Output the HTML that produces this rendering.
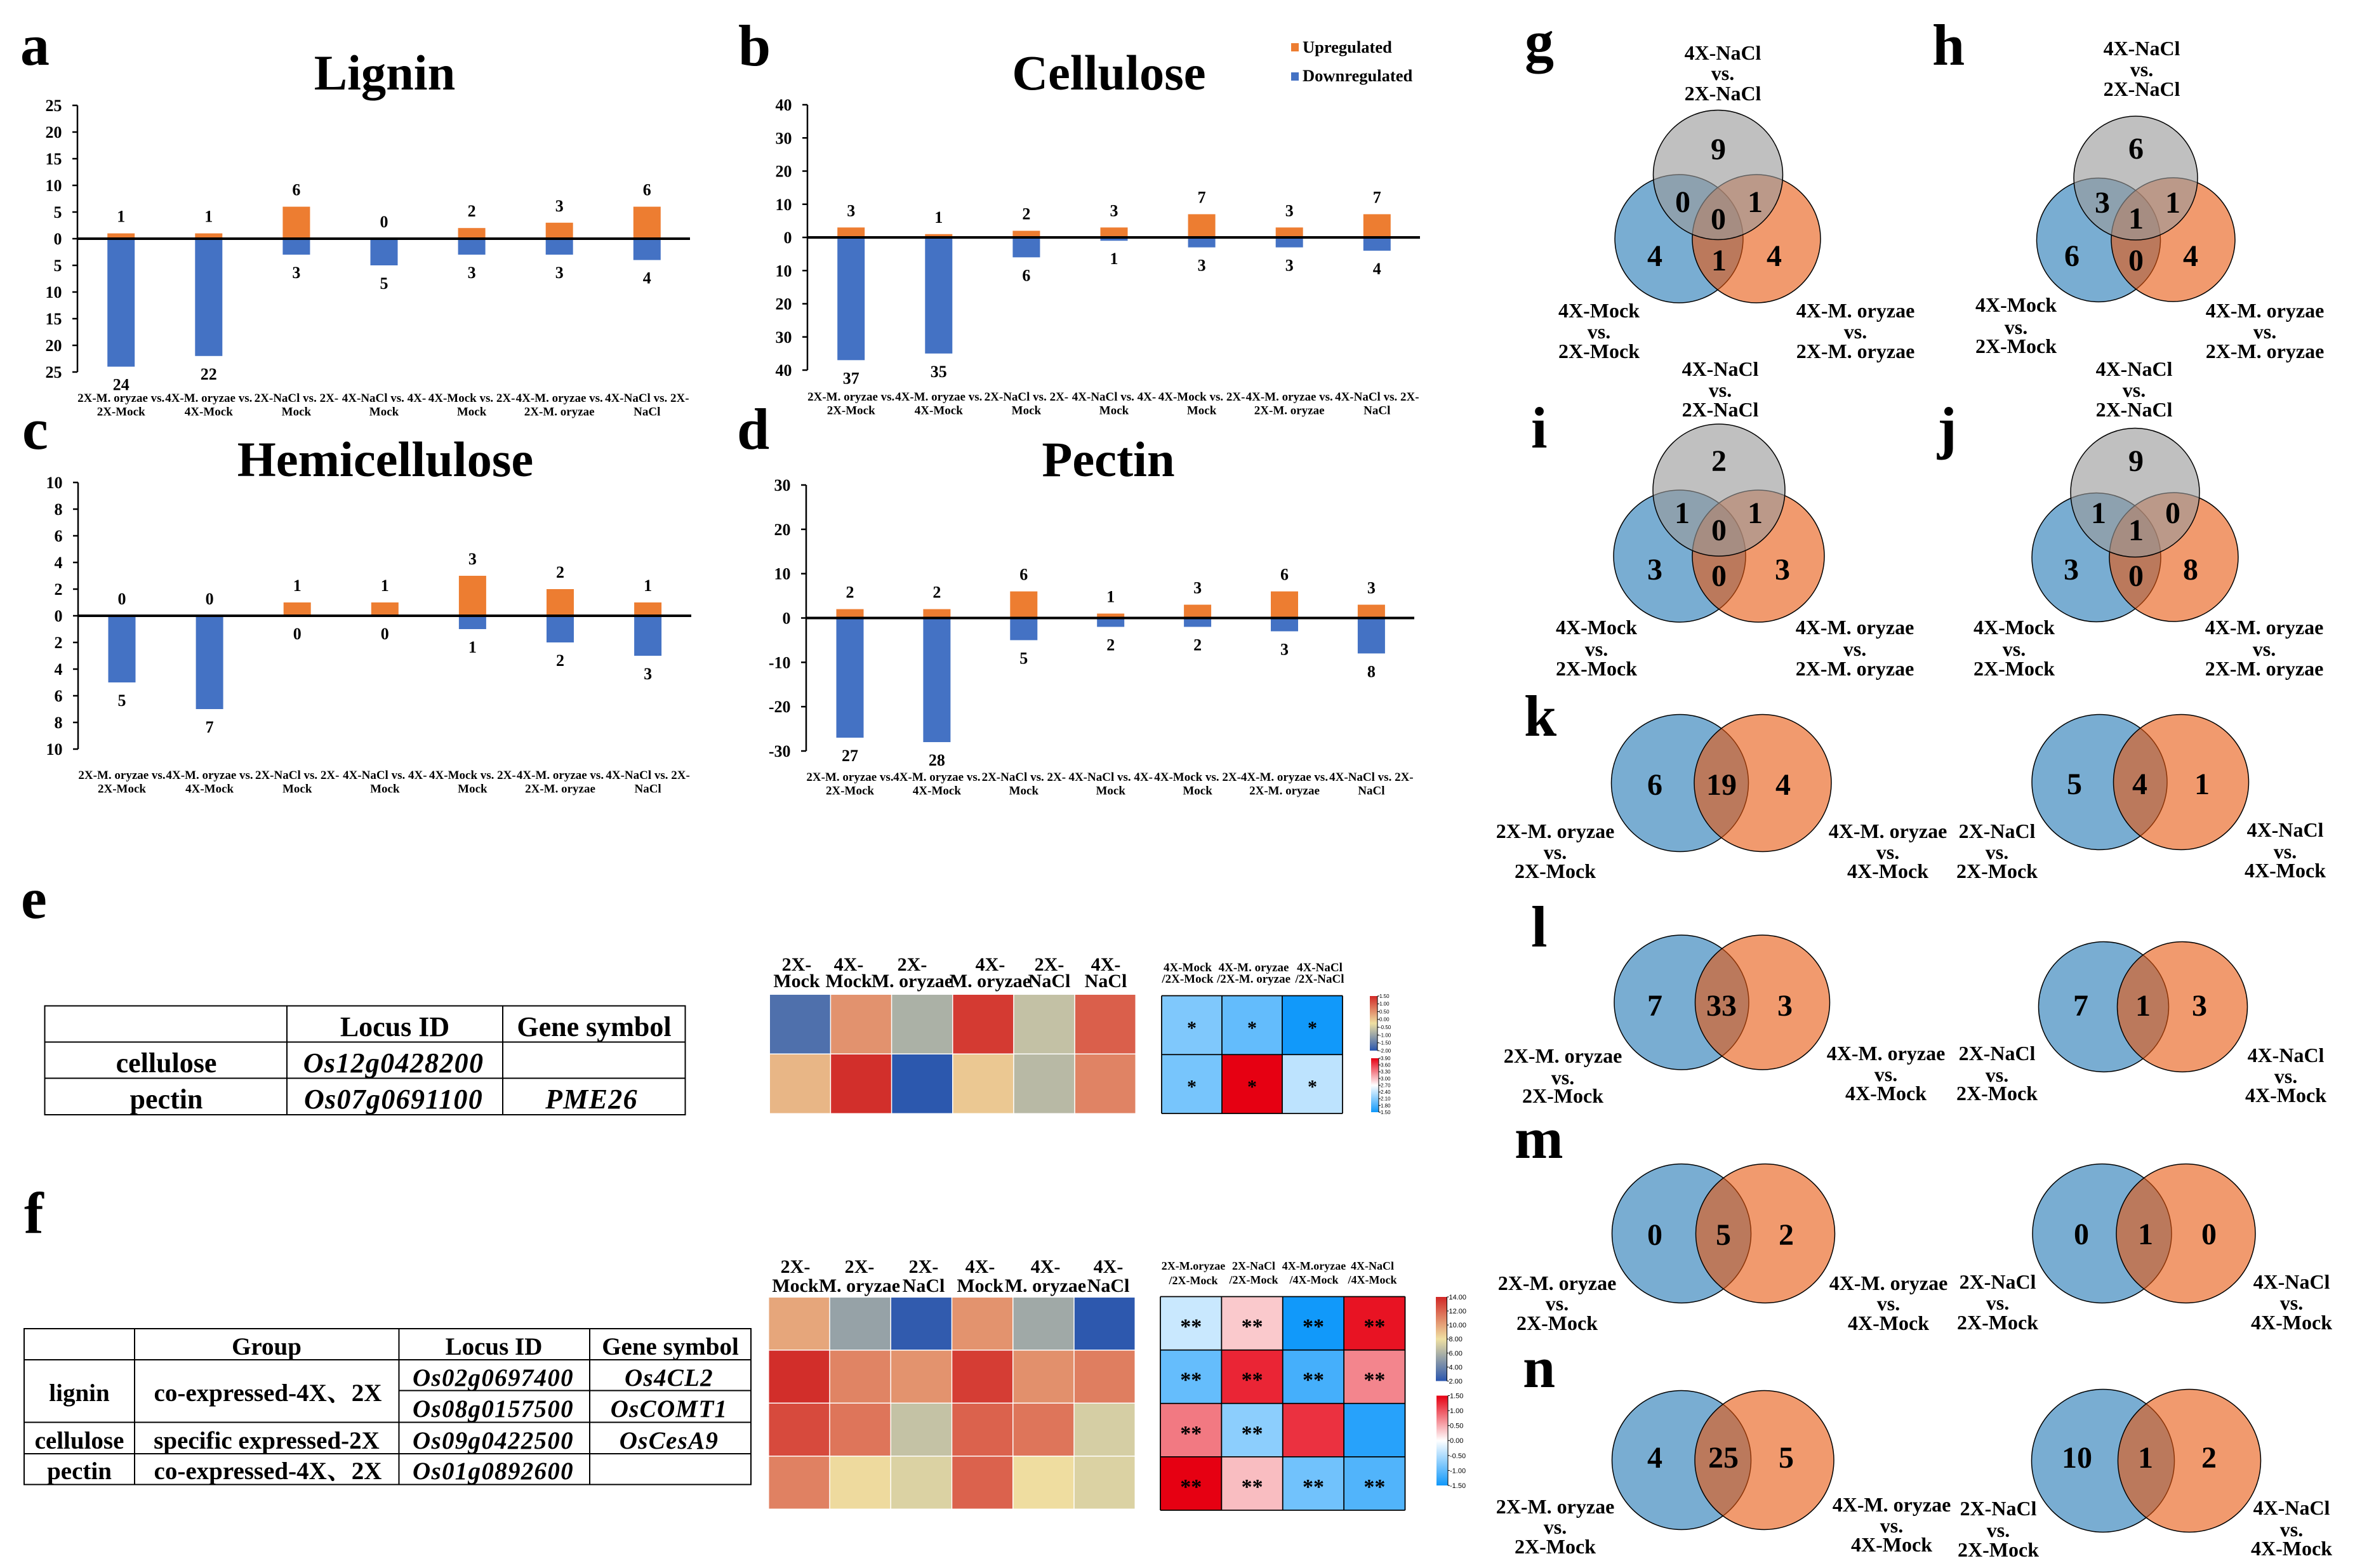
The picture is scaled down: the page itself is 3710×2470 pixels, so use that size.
<!DOCTYPE html>
<html lang="en">
<head>
<meta charset="utf-8">
<title>Cell wall gene expression figure</title>
<style>
html,body{margin:0;padding:0;background:#fff;}
svg{display:block;}
text{font-family:"Liberation Serif","Noto Serif CJK SC","Noto Sans CJK SC",serif;font-weight:bold;fill:#000;}
.letter{font-size:92px;}
.title{font-size:78.5px;text-anchor:middle;}
.tbl-e{font-size:44px;text-anchor:middle;}
.tbl-f{font-size:39px;text-anchor:middle;}
.ital{font-style:italic;letter-spacing:1.3px;}
.hdr{font-size:30px;text-anchor:middle;}
.hdr-sm{font-size:19px;text-anchor:middle;}
.hdr-xs{font-size:18px;text-anchor:middle;}
.vl{font-size:32px;text-anchor:middle;}
.vn{font-size:48px;text-anchor:middle;}
.vb{fill:rgb(31,119,180);fill-opacity:.6;stroke:#000;stroke-width:1.5;}
.vo{fill:rgb(232,87,13);fill-opacity:.6;stroke:#000;stroke-width:1.5;}
.vg{fill:rgb(153,153,153);fill-opacity:.62;stroke:#000;stroke-width:1.5;}
.tl{stroke:#000;stroke-width:2;}
</style>
</head>
<body>
<svg id="figure" xmlns="http://www.w3.org/2000/svg" width="3710" height="2470" viewBox="0 0 3710 2470">
<rect x="0" y="0" width="3710" height="2470" fill="#fff"/>

<text class="letter" x="32" y="102">a</text>
<text class="letter" x="1163" y="103">b</text>
<text class="letter" x="35" y="707">c</text>
<text class="letter" x="1161" y="707">d</text>
<text class="letter" x="33" y="1446">e</text>
<text class="letter" x="38" y="1942">f</text>
<text class="letter" x="2402" y="96">g</text>
<text class="letter" x="3044" y="102">h</text>
<text class="letter" x="2412" y="705">i</text>
<text class="letter" x="3052" y="705">j</text>
<text class="letter" x="2401" y="1159">k</text>
<text class="letter" x="2412" y="1491">l</text>
<text class="letter" x="2386" y="1824">m</text>
<text class="letter" x="2399" y="2185">n</text>

<text class="title" x="606" y="141">Lignin</text>
<text class="title" x="1747" y="141">Cellulose</text>
<text class="title" x="607" y="750">Hemicellulose</text>
<text class="title" x="1746" y="750">Pectin</text>

<g>
<rect x="2034" y="68" width="12" height="13" fill="#ed7d31"/>
<text x="2052" y="83" font-size="26.5">Upregulated</text>
<rect x="2034" y="114" width="12" height="13" fill="#4472c4"/>
<text x="2052" y="128" font-size="26.5">Downregulated</text>
</g>

<!-- table e -->
<g>
<rect class="tl" x="70.5" y="1584.5" width="1009" height="171.5" fill="none"/>
<line class="tl" x1="70" y1="1641.5" x2="1080" y2="1641.5"/>
<line class="tl" x1="70" y1="1698.5" x2="1080" y2="1698.5"/>
<line class="tl" x1="452" y1="1584" x2="452" y2="1756"/>
<line class="tl" x1="792" y1="1584" x2="792" y2="1756"/>
<text class="tbl-e" x="622" y="1632">Locus ID</text>
<text class="tbl-e" x="936" y="1632">Gene symbol</text>
<text class="tbl-e" x="262" y="1689">cellulose</text>
<text class="tbl-e" x="262" y="1746">pectin</text>
<text class="tbl-e ital" x="620" y="1689">Os12g0428200</text>
<text class="tbl-e ital" x="620" y="1746">Os07g0691100</text>
<text class="tbl-e ital" x="932" y="1746">PME26</text>
</g>

<!-- table f -->
<g>
<rect class="tl" x="38" y="2093" width="1145" height="245.5" fill="none"/>
<line class="tl" x1="38" y1="2142" x2="1183" y2="2142"/>
<line class="tl" x1="628.5" y1="2190.5" x2="1183" y2="2190.5"/>
<line class="tl" x1="38" y1="2240.5" x2="1183" y2="2240.5"/>
<line class="tl" x1="38" y1="2290" x2="1183" y2="2290"/>
<line class="tl" x1="212" y1="2093" x2="212" y2="2338"/>
<line class="tl" x1="628.5" y1="2093" x2="628.5" y2="2338"/>
<line class="tl" x1="929" y1="2093" x2="929" y2="2338"/>
<text class="tbl-f" x="420" y="2134">Group</text>
<text class="tbl-f" x="778" y="2134">Locus ID</text>
<text class="tbl-f" x="1056" y="2134">Gene symbol</text>
<text class="tbl-f" x="125" y="2207">lignin</text>
<text class="tbl-f" x="125" y="2282">cellulose</text>
<text class="tbl-f" x="125" y="2330">pectin</text>
<text class="tbl-f" x="422" y="2207">co-expressed-4X、2X</text>
<text class="tbl-f" x="420" y="2282">specific expressed-2X</text>
<text class="tbl-f" x="422" y="2330">co-expressed-4X、2X</text>
<text class="tbl-f ital" x="777" y="2183">Os02g0697400</text>
<text class="tbl-f ital" x="777" y="2232">Os08g0157500</text>
<text class="tbl-f ital" x="777" y="2282">Os09g0422500</text>
<text class="tbl-f ital" x="777" y="2330">Os01g0892600</text>
<text class="tbl-f ital" x="1054" y="2183">Os4CL2</text>
<text class="tbl-f ital" x="1054" y="2232">OsCOMT1</text>
<text class="tbl-f ital" x="1054" y="2282">OsCesA9</text>
</g>

<!-- heatmap column headers -->
<g>
<text class="hdr"><tspan x="1255" y="1529">2X-</tspan><tspan x="1255" y="1555">Mock</tspan></text>
<text class="hdr"><tspan x="1337" y="1529">4X-</tspan><tspan x="1337" y="1555">Mock</tspan></text>
<text class="hdr"><tspan x="1437" y="1529">2X-</tspan><tspan x="1437" y="1555">M. oryzae</tspan></text>
<text class="hdr"><tspan x="1560" y="1529">4X-</tspan><tspan x="1560" y="1555">M. oryzae</tspan></text>
<text class="hdr"><tspan x="1653" y="1529">2X-</tspan><tspan x="1653" y="1555">NaCl</tspan></text>
<text class="hdr"><tspan x="1742" y="1529">4X-</tspan><tspan x="1742" y="1555">NaCl</tspan></text>
<text class="hdr-sm"><tspan x="1871" y="1530">4X-Mock</tspan><tspan x="1871" y="1548">/2X-Mock</tspan></text>
<text class="hdr-sm"><tspan x="1975" y="1530">4X-M. oryzae</tspan><tspan x="1975" y="1548">/2X-M. oryzae</tspan></text>
<text class="hdr-sm"><tspan x="2079" y="1530">4X-NaCl</tspan><tspan x="2079" y="1548">/2X-NaCl</tspan></text>
</g>
<g>
<text class="hdr"><tspan x="1253" y="2005">2X-</tspan><tspan x="1253" y="2035">Mock</tspan></text>
<text class="hdr"><tspan x="1354" y="2005">2X-</tspan><tspan x="1354" y="2035">M. oryzae</tspan></text>
<text class="hdr"><tspan x="1455" y="2005">2X-</tspan><tspan x="1455" y="2035">NaCl</tspan></text>
<text class="hdr"><tspan x="1544" y="2005">4X-</tspan><tspan x="1544" y="2035">Mock</tspan></text>
<text class="hdr"><tspan x="1647" y="2005">4X-</tspan><tspan x="1647" y="2035">M. oryzae</tspan></text>
<text class="hdr"><tspan x="1746" y="2005">4X-</tspan><tspan x="1746" y="2035">NaCl</tspan></text>
<text class="hdr-xs"><tspan x="1880" y="2000">2X-M.oryzae</tspan><tspan x="1880" y="2023">/2X-Mock</tspan></text>
<text class="hdr-xs"><tspan x="1975" y="2000">2X-NaCl</tspan><tspan x="1975" y="2022">/2X-Mock</tspan></text>
<text class="hdr-xs"><tspan x="2070" y="2000">4X-M.oryzae</tspan><tspan x="2070" y="2022">/4X-Mock</tspan></text>
<text class="hdr-xs"><tspan x="2162" y="2000">4X-NaCl</tspan><tspan x="2162" y="2022">/4X-Mock</tspan></text>
</g>

<!-- venn g -->
<g>
<circle class="vb" cx="2645" cy="376" r="101"/>
<circle class="vo" cx="2767" cy="376" r="101"/>
<circle class="vg" cx="2706.5" cy="275.5" r="102"/>
<text class="vn" x="2707" y="251">9</text>
<text class="vn" x="2651" y="334">0</text>
<text class="vn" x="2765" y="334">1</text>
<text class="vn" x="2707" y="361">0</text>
<text class="vn" x="2607" y="419">4</text>
<text class="vn" x="2795" y="419">4</text>
<text class="vn" x="2708" y="426">1</text>
<text class="vl"><tspan x="2714" y="94">4X-NaCl</tspan><tspan x="2714" y="126">vs.</tspan><tspan x="2714" y="158">2X-NaCl</tspan></text>
<text class="vl"><tspan x="2519" y="500">4X-Mock</tspan><tspan x="2519" y="533">vs.</tspan><tspan x="2519" y="564">2X-Mock</tspan></text>
<text class="vl"><tspan x="2923" y="500">4X-M. oryzae</tspan><tspan x="2923" y="533">vs.</tspan><tspan x="2923" y="564">2X-M. oryzae</tspan></text>
</g>
<!-- venn h -->
<g>
<circle class="vb" cx="3306" cy="378" r="97.5"/>
<circle class="vo" cx="3423.5" cy="377.5" r="97.5"/>
<circle class="vg" cx="3364.5" cy="280.5" r="97.5"/>
<text class="vn" x="3365" y="250">6</text>
<text class="vn" x="3312" y="335">3</text>
<text class="vn" x="3423" y="335">1</text>
<text class="vn" x="3365" y="360">1</text>
<text class="vn" x="3264" y="419">6</text>
<text class="vn" x="3451" y="419">4</text>
<text class="vn" x="3365" y="426">0</text>
<text class="vl"><tspan x="3374" y="87">4X-NaCl</tspan><tspan x="3374" y="120">vs.</tspan><tspan x="3374" y="151">2X-NaCl</tspan></text>
<text class="vl"><tspan x="3176" y="491">4X-Mock</tspan><tspan x="3176" y="526">vs.</tspan><tspan x="3176" y="556">2X-Mock</tspan></text>
<text class="vl"><tspan x="3568" y="500">4X-M. oryzae</tspan><tspan x="3568" y="533">vs.</tspan><tspan x="3568" y="564">2X-M. oryzae</tspan></text>
</g>
<!-- venn i -->
<g>
<circle class="vb" cx="2646" cy="876" r="104"/>
<circle class="vo" cx="2770" cy="876" r="104"/>
<circle class="vg" cx="2708" cy="772" r="104"/>
<text class="vn" x="2708" y="742">2</text>
<text class="vn" x="2650" y="824">1</text>
<text class="vn" x="2765" y="824">1</text>
<text class="vn" x="2708" y="851">0</text>
<text class="vn" x="2607" y="913">3</text>
<text class="vn" x="2808" y="913">3</text>
<text class="vn" x="2708" y="923">0</text>
<text class="vl"><tspan x="2710" y="592">4X-NaCl</tspan><tspan x="2710" y="625">vs.</tspan><tspan x="2710" y="656">2X-NaCl</tspan></text>
<text class="vl"><tspan x="2515" y="999">4X-Mock</tspan><tspan x="2515" y="1033">vs.</tspan><tspan x="2515" y="1064">2X-Mock</tspan></text>
<text class="vl"><tspan x="2922" y="999">4X-M. oryzae</tspan><tspan x="2922" y="1033">vs.</tspan><tspan x="2922" y="1064">2X-M. oryzae</tspan></text>
</g>
<!-- venn j -->
<g>
<circle class="vb" cx="3302.5" cy="878" r="101.5"/>
<circle class="vo" cx="3424.5" cy="877.5" r="101.5"/>
<circle class="vg" cx="3363.5" cy="776" r="101.5"/>
<text class="vn" x="3365" y="742">9</text>
<text class="vn" x="3306" y="824">1</text>
<text class="vn" x="3423" y="824">0</text>
<text class="vn" x="3365" y="851">1</text>
<text class="vn" x="3263" y="913">3</text>
<text class="vn" x="3451" y="913">8</text>
<text class="vn" x="3365" y="923">0</text>
<text class="vl"><tspan x="3362" y="592">4X-NaCl</tspan><tspan x="3362" y="625">vs.</tspan><tspan x="3362" y="656">2X-NaCl</tspan></text>
<text class="vl"><tspan x="3173" y="999">4X-Mock</tspan><tspan x="3173" y="1033">vs.</tspan><tspan x="3173" y="1064">2X-Mock</tspan></text>
<text class="vl"><tspan x="3567" y="999">4X-M. oryzae</tspan><tspan x="3567" y="1033">vs.</tspan><tspan x="3567" y="1064">2X-M. oryzae</tspan></text>
</g>
<!-- venn k -->
<g>
<circle class="vb" cx="2646.5" cy="1233.5" r="108"/>
<circle class="vo" cx="2777" cy="1233.5" r="108"/>
<text class="vn" x="2607" y="1252">6</text>
<text class="vn" x="2712" y="1252">19</text>
<text class="vn" x="2809" y="1252">4</text>
<text class="vl"><tspan x="2450" y="1320">2X-M. oryzae</tspan><tspan x="2450" y="1353">vs.</tspan><tspan x="2450" y="1383">2X-Mock</tspan></text>
<text class="vl"><tspan x="2974" y="1320">4X-M. oryzae</tspan><tspan x="2974" y="1353">vs.</tspan><tspan x="2974" y="1383">4X-Mock</tspan></text>
</g>
<g>
<circle class="vb" cx="3307.5" cy="1232" r="106.5"/>
<circle class="vo" cx="3436" cy="1232" r="106.5"/>
<text class="vn" x="3268" y="1251">5</text>
<text class="vn" x="3371" y="1251">4</text>
<text class="vn" x="3469" y="1251">1</text>
<text class="vl"><tspan x="3146" y="1320">2X-NaCl</tspan><tspan x="3146" y="1353">vs.</tspan><tspan x="3146" y="1383">2X-Mock</tspan></text>
<text class="vl"><tspan x="3600" y="1318">4X-NaCl</tspan><tspan x="3600" y="1352">vs.</tspan><tspan x="3600" y="1382">4X-Mock</tspan></text>
</g>
<!-- venn l -->
<g>
<circle class="vb" cx="2649" cy="1579" r="106"/>
<circle class="vo" cx="2776.5" cy="1579" r="106"/>
<text class="vn" x="2607" y="1600">7</text>
<text class="vn" x="2712" y="1600">33</text>
<text class="vn" x="2812" y="1600">3</text>
<text class="vl"><tspan x="2462" y="1674">2X-M. oryzae</tspan><tspan x="2462" y="1708">vs.</tspan><tspan x="2462" y="1737">2X-Mock</tspan></text>
<text class="vl"><tspan x="2971" y="1670">4X-M. oryzae</tspan><tspan x="2971" y="1703">vs.</tspan><tspan x="2971" y="1733">4X-Mock</tspan></text>
</g>
<g>
<circle class="vb" cx="3314" cy="1586" r="102.5"/>
<circle class="vo" cx="3438" cy="1586" r="102.5"/>
<text class="vn" x="3278" y="1600">7</text>
<text class="vn" x="3376" y="1600">1</text>
<text class="vn" x="3465" y="1600">3</text>
<text class="vl"><tspan x="3146" y="1670">2X-NaCl</tspan><tspan x="3146" y="1704">vs.</tspan><tspan x="3146" y="1733">2X-Mock</tspan></text>
<text class="vl"><tspan x="3601" y="1673">4X-NaCl</tspan><tspan x="3601" y="1706">vs.</tspan><tspan x="3601" y="1736">4X-Mock</tspan></text>
</g>
<!-- venn m -->
<g>
<circle class="vb" cx="2649" cy="1943" r="109.5"/>
<circle class="vo" cx="2781" cy="1943" r="109.5"/>
<text class="vn" x="2607" y="1961">0</text>
<text class="vn" x="2715" y="1961">5</text>
<text class="vn" x="2814" y="1961">2</text>
<text class="vl"><tspan x="2453" y="2032">2X-M. oryzae</tspan><tspan x="2453" y="2064">vs.</tspan><tspan x="2453" y="2095">2X-Mock</tspan></text>
<text class="vl"><tspan x="2975" y="2032">4X-M. oryzae</tspan><tspan x="2975" y="2064">vs.</tspan><tspan x="2975" y="2095">4X-Mock</tspan></text>
</g>
<g>
<circle class="vb" cx="3311.5" cy="1943" r="109.5"/>
<circle class="vo" cx="3443.5" cy="1943" r="109.5"/>
<text class="vn" x="3279" y="1960">0</text>
<text class="vn" x="3380" y="1960">1</text>
<text class="vn" x="3480" y="1960">0</text>
<text class="vl"><tspan x="3147" y="2030">2X-NaCl</tspan><tspan x="3147" y="2063">vs.</tspan><tspan x="3147" y="2094">2X-Mock</tspan></text>
<text class="vl"><tspan x="3610" y="2030">4X-NaCl</tspan><tspan x="3610" y="2063">vs.</tspan><tspan x="3610" y="2094">4X-Mock</tspan></text>
</g>
<!-- venn n -->
<g>
<circle class="vb" cx="2649" cy="2300" r="109.5"/>
<circle class="vo" cx="2779.5" cy="2300" r="109.5"/>
<text class="vn" x="2607" y="2312">4</text>
<text class="vn" x="2715" y="2312">25</text>
<text class="vn" x="2814" y="2312">5</text>
<text class="vl"><tspan x="2450" y="2384">2X-M. oryzae</tspan><tspan x="2450" y="2416">vs.</tspan><tspan x="2450" y="2447">2X-Mock</tspan></text>
<text class="vl"><tspan x="2980" y="2381">4X-M. oryzae</tspan><tspan x="2980" y="2414">vs.</tspan><tspan x="2980" y="2444">4X-Mock</tspan></text>
</g>
<g>
<circle class="vb" cx="3313" cy="2301" r="112.5"/>
<circle class="vo" cx="3449" cy="2301" r="112.5"/>
<text class="vn" x="3272" y="2312">10</text>
<text class="vn" x="3380" y="2312">1</text>
<text class="vn" x="3480" y="2312">2</text>
<text class="vl"><tspan x="3148" y="2387">2X-NaCl</tspan><tspan x="3148" y="2421">vs.</tspan><tspan x="3148" y="2452">2X-Mock</tspan></text>
<text class="vl"><tspan x="3610" y="2386">4X-NaCl</tspan><tspan x="3610" y="2420">vs.</tspan><tspan x="3610" y="2450">4X-Mock</tspan></text>
</g>
</svg>

<script>
// ---- bar chart data ----
const categoryLine1 = ['2X-M. oryzae vs.', '4X-M. oryzae vs.', '2X-NaCl vs. 2X-', '4X-NaCl vs. 4X-', '4X-Mock vs. 2X-', '4X-M. oryzae vs.', '4X-NaCl vs. 2X-'];
const categoryLine2 = ['2X-Mock', '4X-Mock', 'Mock', 'Mock', 'Mock', '2X-M. oryzae', 'NaCl'];
const ligninUp = [1, 1, 6, 0, 2, 3, 6];
const ligninDown = [24, 22, 3, 5, 3, 3, 4];
const ligninTicks = [25, 20, 15, 10, 5, 0, -5, -10, -15, -20, -25];
const ligninTickLabels = ['25', '20', '15', '10', '5', '0', '5', '10', '15', '20', '25'];
const celluloseUp = [3, 1, 2, 3, 7, 3, 7];
const celluloseDown = [37, 35, 6, 1, 3, 3, 4];
const celluloseTicks = [40, 30, 20, 10, 0, -10, -20, -30, -40];
const celluloseTickLabels = ['40', '30', '20', '10', '0', '10', '20', '30', '40'];
const hemicelluloseUp = [0, 0, 1, 1, 3, 2, 1];
const hemicelluloseDown = [5, 7, 0, 0, 1, 2, 3];
const hemicelluloseTicks = [10, 8, 6, 4, 2, 0, -2, -4, -6, -8, -10];
const hemicelluloseTickLabels = ['10', '8', '6', '4', '2', '0', '2', '4', '6', '8', '10'];
const pectinUp = [2, 2, 6, 1, 3, 6, 3];
const pectinDown = [27, 28, 5, 2, 2, 3, 8];
const pectinTicks = [30, 20, 10, 0, -10, -20, -30];
const pectinTickLabels = ['30', '20', '10', '0', '-10', '-20', '-30'];

// ---- heatmap data ----
const heatERow1 = [-1.67, 0.49, -0.85, 1.33, -0.64, 0.98];
const heatERow2 = [0.15, 1.43, -1.98, -0.02, -0.74, 0.63];
const ratioERow1 = [2.06, 1.92, 1.51];
const ratioERow2 = [2.02, 3.9, 2.37];
const ratioEStars = ['*', '*', '*', '*', '*', '*'];
const heatFRow1 = [9.9, 5.3, 2.2, 10.5, 5.6, 2.1];
const heatFRow2 = [13.8, 11.0, 10.5, 13.3, 10.6, 11.2];
const heatFRow3 = [12.9, 11.5, 6.7, 12.1, 11.5, 7.2];
const heatFRow4 = [11.1, 8.2, 7.4, 12.1, 8.1, 7.4];
const ratioFRow1 = [-0.34, 0.32, -1.49, 1.39];
const ratioFRow2 = [-0.96, 1.28, -1.16, 0.72];
const ratioFRow3 = [0.79, -0.72, 1.21, -1.35];
const ratioFRow4 = [1.5, 0.39, -0.89, -1.09];
const ratioFStars = ['**', '**', '**', '**', '**', '**', '**', '**', '**', '**', '', '', '**', '**', '**', '**'];
const legendE1Ticks = [1.5, 1, 0.5, 0, -0.5, -1, -1.5, -2];
const legendE1Labels = ['1.50', '1.00', '0.50', '0.00', '-0.50', '-1.00', '-1.50', '-2.00'];
const legendE2Ticks = [3.9, 3.6, 3.3, 3.0, 2.7, 2.4, 2.1, 1.8, 1.5];
const legendE2Labels = ['3.90', '3.60', '3.30', '3.00', '2.70', '2.40', '2.10', '1.80', '1.50'];
const legendF1Ticks = [14, 12, 10, 8, 6, 4, 2];
const legendF1Labels = ['14.00', '12.00', '10.00', '8.00', '6.00', '4.00', '2.00'];
const legendF2Ticks = [1.5, 1, 0.5, 0, -0.5, -1, -1.5];
const legendF2Labels = ['1.50', '1.00', '0.50', '0.00', '-0.50', '-1.00', '-1.50'];

const figure = document.getElementById('figure');
const NS = 'http://www.w3.org/2000/svg';
function mk(tag, attrs, parent) {
  const node = document.createElementNS(NS, tag);
  for (const key in attrs) node.setAttribute(key, attrs[key]);
  parent.appendChild(node);
  return node;
}

function drawBarChart(name, up, down, ticks, tickLabels, box) {
  const group = mk('g', {}, figure);
  
  
  const maxV = Math.max.apply(null, ticks);
  const yScale = v => box.zero - v * (box.zero - box.top) / maxV;
  const xScale = i => box.first + i * box.step;

  up.forEach((v, i) => {
    const bar = mk('rect', {x: xScale(i) - 21.5, y: yScale(v), width: 43, height: yScale(0) - yScale(v), fill: '#ed7d31'}, group);
    
    
    const label = mk('text', {x: xScale(i), y: yScale(v) - 18, 'font-size': 26, 'text-anchor': 'middle'}, group);
    label.textContent = String(v);
    
    
  });
  down.forEach((v, i) => {
    const bar = mk('rect', {x: xScale(i) - 21.5, y: yScale(0), width: 43, height: yScale(-v) - yScale(0), fill: '#4472c4'}, group);
    
    
    const label = mk('text', {x: xScale(i), y: yScale(-v) + 37, 'font-size': 26, 'text-anchor': 'middle'}, group);
    label.textContent = String(v);
    
    
  });

  const yAxis = mk('line', {x1: box.axis, y1: yScale(maxV), x2: box.axis, y2: yScale(-maxV), stroke: '#000', 'stroke-width': 2.5}, group);
  
  
  const zeroLine = mk('line', {x1: box.axis, y1: yScale(0), x2: box.end, y2: yScale(0), stroke: '#000', 'stroke-width': 4}, group);
  
  

  ticks.forEach((v, i) => {
    const tick = mk('line', {x1: box.axis - 8, y1: yScale(v), x2: box.axis, y2: yScale(v), stroke: '#000', 'stroke-width': 2.5}, group);
    
    
    const label = mk('text', {x: box.axis - 24.5, y: yScale(v) + 9, 'font-size': 26, 'text-anchor': 'end'}, group);
    label.textContent = tickLabels[i];
    
    
  });

  categoryLine1.forEach((line, i) => {
    const label = mk('text', {'font-size': 19, 'text-anchor': 'middle'}, group);
    
    
    const first = mk('tspan', {x: xScale(i), y: box.catY}, label);
    first.textContent = line;
    const second = mk('tspan', {x: xScale(i), y: box.catY + 21.5}, label);
    second.textContent = categoryLine2[i];
  });
}

drawBarChart('lignin', ligninUp, ligninDown, ligninTicks, ligninTickLabels,
  {axis: 122, top: 166, zero: 376, end: 1087, first: 190.7, step: 138.1, catY: 633});
drawBarChart('cellulose', celluloseUp, celluloseDown, celluloseTicks, celluloseTickLabels,
  {axis: 1272, top: 165, zero: 374, end: 2237, first: 1340.7, step: 138.1, catY: 631});
drawBarChart('hemicellulose', hemicelluloseUp, hemicelluloseDown, hemicelluloseTicks, hemicelluloseTickLabels,
  {axis: 123, top: 760, zero: 970, end: 1089, first: 192, step: 138.1, catY: 1227});
drawBarChart('pectin', pectinUp, pectinDown, pectinTicks, pectinTickLabels,
  {axis: 1270, top: 764, zero: 973.5, end: 2228, first: 1339, step: 136.9, catY: 1230});

// ---- colour scales ----
const warmStops = ['#2a56ae', '#efe0a2', '#d12826'];
const ratioStops = ['#0f98fa', '#ffffff', '#e60012'];
function hexRgb(hex) {
  return [parseInt(hex.slice(1, 3), 16), parseInt(hex.slice(3, 5), 16), parseInt(hex.slice(5, 7), 16)];
}
function colorAt(stops, t) {
  const clamped = Math.max(0, Math.min(1, t));
  const lowSide = clamped < 0.5;
  const a = hexRgb(lowSide ? stops[0] : stops[1]);
  const b = hexRgb(lowSide ? stops[1] : stops[2]);
  const f = lowSide ? clamped * 2 : (clamped - 0.5) * 2;
  return 'rgb(' + a.map((c, k) => Math.round(c + (b[k] - c) * f)).join(',') + ')';
}

function drawHeat(name, rows, domain, stops, box, stars) {
  const group = mk('g', {}, figure);
  
  
  const colorScale = v => colorAt(stops, (v - domain[0]) / (domain[1] - domain[0]));
  const cw = (box.x1 - box.x0) / rows[0].length;
  const ch = (box.y1 - box.y0) / rows.length;
  rows.forEach((row, r) => {
    row.forEach((v, c) => {
      const cell = mk('rect', {x: box.x0 + c * cw, y: box.y0 + r * ch, width: cw - box.gap, height: ch - box.gap, fill: colorScale(v)}, group);
      
      
      if (stars) {
        const star = mk('text', {x: box.x0 + (c + 0.5) * cw, y: box.y0 + (r + 0.5) * ch + box.starDy, 'font-size': box.starSize, 'text-anchor': 'middle'}, group);
        star.textContent = stars[r * row.length + c];
        
        
      }
    });
  });
  if (box.grid) {
    for (let c = 0; c <= rows[0].length; c++) {
      const v = mk('line', {x1: box.x0 + c * cw, y1: box.y0, x2: box.x0 + c * cw, y2: box.y1, stroke: '#000', 'stroke-width': 1.8}, group);
      
      
    }
    for (let r = 0; r <= rows.length; r++) {
      const h = mk('line', {x1: box.x0, y1: box.y0 + r * ch, x2: box.x1, y2: box.y0 + r * ch, stroke: '#000', 'stroke-width': 1.8}, group);
      
      
    }
  }
}

drawHeat('heatmap-e', [heatERow1, heatERow2], [-2, 1.5], warmStops,
  {x0: 1213, x1: 1790, y0: 1567, y1: 1755, gap: 1.5});
drawHeat('heatmap-f', [heatFRow1, heatFRow2, heatFRow3, heatFRow4], [2, 14], warmStops,
  {x0: 1211.5, x1: 1789, y0: 2044, y1: 2378, gap: 1.5});
drawHeat('ratio-heatmap-e', [ratioERow1, ratioERow2], [1.5, 3.9], ratioStops,
  {x0: 1830, x1: 2115, y0: 1568.5, y1: 1754, gap: 0, grid: true, starDy: 14, starSize: 30}, ratioEStars);
drawHeat('ratio-heatmap-f', [ratioFRow1, ratioFRow2, ratioFRow3, ratioFRow4], [-1.5, 1.5], ratioStops,
  {x0: 1828, x1: 2213.5, y0: 2042.5, y1: 2379, gap: 0, grid: true, starDy: 16, starSize: 34}, ratioFStars);

let gradientCount = 0;
function drawColorLegend(name, ticks, labels, stops, box) {
  const group = mk('g', {}, figure);
  
  
  gradientCount += 1;
  const gradientId = 'legend-gradient-' + gradientCount;
  const gradient = mk('linearGradient', {id: gradientId, x1: 0, y1: 1, x2: 0, y2: 0}, group);
  [0, 0.5, 1].forEach(t => {
    mk('stop', {offset: t, 'stop-color': colorAt(stops, t)}, gradient);
  });
  const bar = mk('rect', {x: box.x0, y: box.y0, width: box.x1 - box.x0, height: box.y1 - box.y0, fill: 'url(#' + gradientId + ')'}, group);
  
  
  const spine = mk('line', {x1: box.x1, y1: box.y0, x2: box.x1, y2: box.y1, stroke: '#000', 'stroke-width': 1}, group);
  
  
  const hi = Math.max.apply(null, ticks);
  const lo = Math.min.apply(null, ticks);
  const yScale = v => box.y0 + (hi - v) / (hi - lo) * (box.y1 - box.y0);
  ticks.forEach((v, i) => {
    const tick = mk('line', {x1: box.x1, y1: yScale(v), x2: box.x1 + 3, y2: yScale(v), stroke: '#000', 'stroke-width': 1}, group);
    
    
    const label = mk('text', {x: box.x1 + 3, y: yScale(v) + box.size * 0.36, 'font-size': box.size, style: 'font-family:"Liberation Sans",sans-serif;font-weight:normal'}, group);
    label.textContent = labels[i];
    
    
  });
}

drawColorLegend('legend-heatmap-e', legendE1Ticks, legendE1Labels, warmStops, {x0: 2158, x1: 2170, y0: 1569, y1: 1655, size: 8});
drawColorLegend('legend-ratio-e', legendE2Ticks, legendE2Labels, ratioStops, {x0: 2160, x1: 2172, y0: 1667, y1: 1752, size: 8});
drawColorLegend('legend-heatmap-f', legendF1Ticks, legendF1Labels, warmStops, {x0: 2262, x1: 2279.5, y0: 2043, y1: 2175.5, size: 11});
drawColorLegend('legend-ratio-f', legendF2Ticks, legendF2Labels, ratioStops, {x0: 2263, x1: 2281, y0: 2198.5, y1: 2340, size: 11});
</script>
</body>
</html>
